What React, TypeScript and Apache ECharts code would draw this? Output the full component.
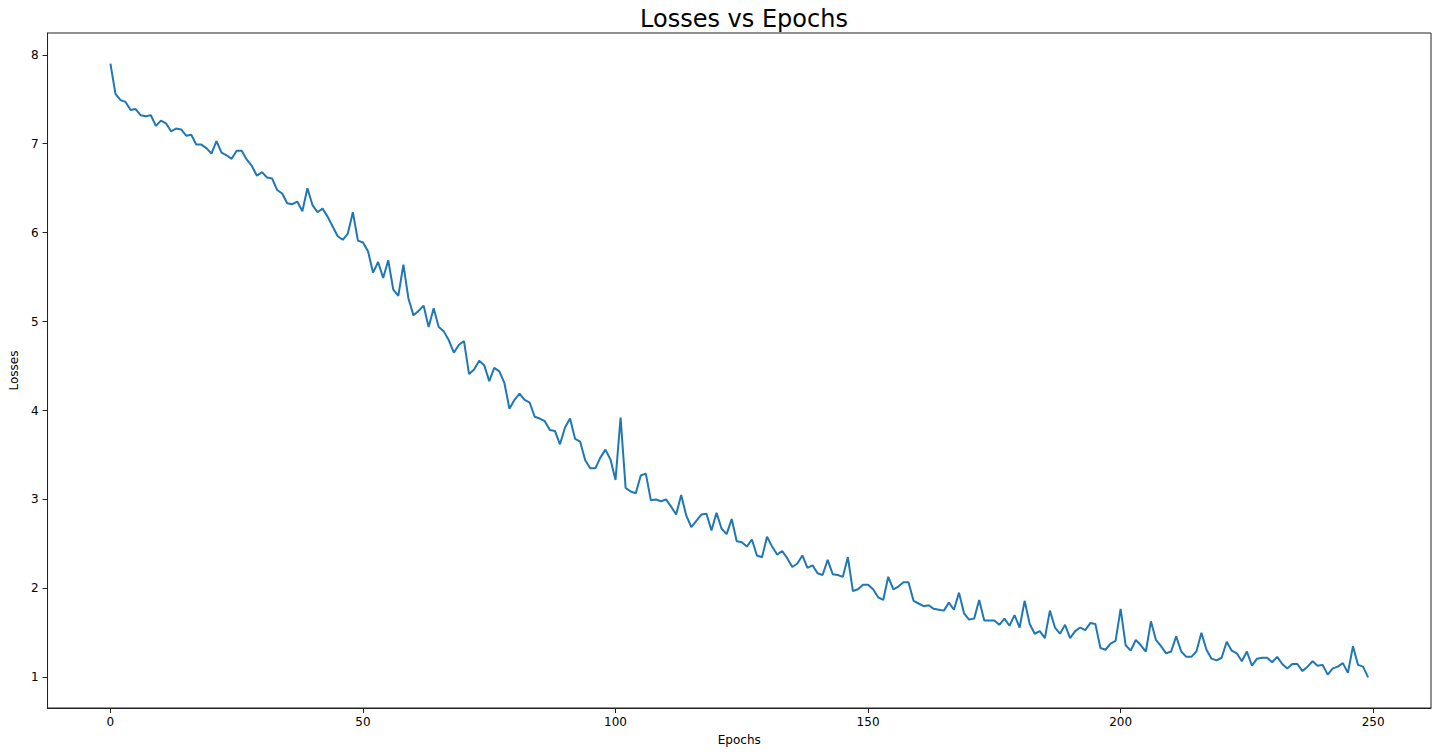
import React, { useEffect, useRef } from "react";
import * as echarts from "echarts";

const epochLosses: number[] = [
  7.9, 7.56, 7.49, 7.47, 7.38, 7.39, 7.32, 7.31, 7.32, 7.2,
  7.26, 7.23, 7.14, 7.17, 7.16, 7.09, 7.1, 6.99, 6.99, 6.95,
  6.89, 7.03, 6.9, 6.87, 6.83, 6.92, 6.92, 6.82, 6.75, 6.64,
  6.68, 6.62, 6.61, 6.48, 6.44, 6.33, 6.32, 6.35, 6.24, 6.5,
  6.31, 6.23, 6.27, 6.18, 6.07, 5.96, 5.92, 5.99, 6.23, 5.91,
  5.89, 5.79, 5.55, 5.67, 5.49, 5.69, 5.36, 5.29, 5.64, 5.26,
  5.07, 5.12, 5.18, 4.94, 5.15, 4.94, 4.89, 4.79, 4.65, 4.74,
  4.78, 4.41, 4.46, 4.56, 4.51, 4.33, 4.48, 4.44, 4.31, 4.02,
  4.12, 4.19, 4.12, 4.09, 3.93, 3.91, 3.88, 3.78, 3.77, 3.62,
  3.81, 3.91, 3.68, 3.65, 3.44, 3.35, 3.35, 3.47, 3.56, 3.45,
  3.22, 3.92, 3.13, 3.09, 3.07, 3.27, 3.29, 2.99, 3.0, 2.98,
  3.0, 2.92, 2.83, 3.05, 2.82, 2.69, 2.76, 2.83, 2.84, 2.65,
  2.85, 2.67, 2.61, 2.78, 2.53, 2.52, 2.47, 2.55, 2.37, 2.35,
  2.58, 2.47, 2.38, 2.42, 2.34, 2.24, 2.28, 2.37, 2.23, 2.26,
  2.17, 2.15, 2.32, 2.16, 2.15, 2.13, 2.35, 1.97, 1.99, 2.04,
  2.04, 1.99, 1.9, 1.87, 2.13, 1.99, 2.02, 2.07, 2.07, 1.86,
  1.83, 1.8, 1.81, 1.77, 1.76, 1.75, 1.84, 1.76, 1.95, 1.72,
  1.65, 1.66, 1.87, 1.64, 1.64, 1.64, 1.59, 1.66, 1.58, 1.7,
  1.56, 1.86, 1.6, 1.49, 1.52, 1.44, 1.75, 1.56, 1.49, 1.59,
  1.44, 1.52, 1.56, 1.53, 1.61, 1.6, 1.33, 1.31, 1.38, 1.41,
  1.77, 1.36, 1.3, 1.42, 1.36, 1.29, 1.63, 1.42, 1.35, 1.27,
  1.29, 1.46, 1.29, 1.23, 1.23, 1.29, 1.5, 1.31, 1.21, 1.19,
  1.22, 1.4, 1.3, 1.27, 1.18, 1.29, 1.13, 1.21, 1.22, 1.22,
  1.17, 1.23, 1.15, 1.1, 1.15, 1.15, 1.07, 1.12, 1.18, 1.13,
  1.14, 1.03, 1.1, 1.12, 1.16, 1.05, 1.35, 1.14, 1.12, 1.0,
];

const xTickValues: number[] = [0, 50, 100, 150, 200, 250];
const yTickValues: number[] = [1, 2, 3, 4, 5, 6, 7, 8];

const chartTitle = "Losses vs Epochs";
const xName = "Epochs";
const yName = "Losses";

const FONT = "DejaVu Sans";

export default function App() {
  const ref = useRef<HTMLDivElement>(null);

  useEffect(() => {
    if (!ref.current) return;
    const chart = echarts.init(ref.current, undefined, { renderer: "svg" });
    const data = epochLosses.map((v, i) => [i, v]);
    const n = epochLosses.length - 1;
    const xPad = n * 0.05;
    const yMin = Math.min(...epochLosses);
    const yMax = Math.max(...epochLosses);
    const yPad = (yMax - yMin) * 0.05;

    chart.setOption({
      animation: false,
      backgroundColor: "#ffffff",
      title: {
        text: chartTitle,
        left: 739,
        textAlign: "center",
        top: 2,
        textStyle: {
          fontFamily: FONT,
          fontSize: 24,
          fontWeight: "normal",
          color: "#000000",
        },
      },
      grid: {
        left: 47,
        right: 3,
        top: 33,
        bottom: 44,
        show: true,
        borderColor: "#222222",
        borderWidth: 1,
        backgroundColor: "transparent",
      },
      xAxis: {
        type: "value",
        min: -xPad,
        max: n + xPad,
        name: xName,
        nameLocation: "middle",
        nameGap: 26,
        nameTextStyle: { fontFamily: FONT, fontSize: 12, color: "#000000" },
        axisLine: { show: true, onZero: false, lineStyle: { color: "#222222", width: 1 } },
        axisTick: {
          show: true,
          length: 5,
          customValues: xTickValues,
          lineStyle: { color: "#222222", width: 1 },
        },
        axisLabel: {
          customValues: xTickValues,
          margin: 8,
          fontFamily: FONT,
          fontSize: 12,
          color: "#000000",
        },
        splitLine: { show: false },
      },
      yAxis: {
        type: "value",
        min: yMin - yPad,
        max: yMax + yPad,
        name: yName,
        nameLocation: "middle",
        nameGap: 23,
        nameRotate: 90,
        nameTextStyle: { fontFamily: FONT, fontSize: 12, color: "#000000" },
        axisLine: { show: true, onZero: false, lineStyle: { color: "#222222", width: 1 } },
        axisTick: {
          show: true,
          length: 5,
          customValues: yTickValues,
          lineStyle: { color: "#222222", width: 1 },
        },
        axisLabel: {
          customValues: yTickValues,
          margin: 9,
          fontFamily: FONT,
          fontSize: 12,
          color: "#000000",
        },
        splitLine: { show: false },
      },
      series: [
        {
          type: "line",
          data,
          showSymbol: false,
          symbol: "none",
          lineStyle: { color: "#1f77b4", width: 2 },
          itemStyle: { color: "#1f77b4" },
        },
      ],
    });

    return () => {
      chart.dispose();
    };
  }, []);

  return (
    <div
      ref={ref}
      style={{ position: "fixed", left: 0, top: 0, width: 1434, height: 752, background: "#fff" }}
    />
  );
}
